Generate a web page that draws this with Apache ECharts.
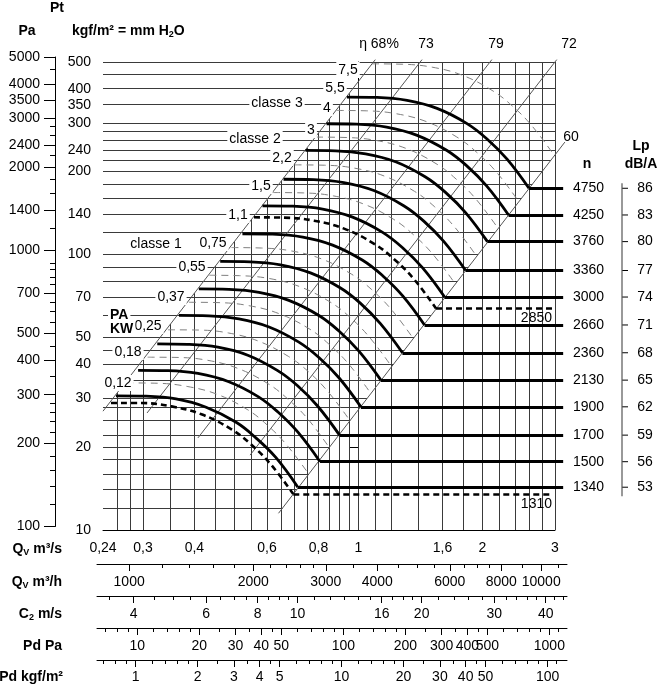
<!DOCTYPE html>
<html><head><meta charset="utf-8">
<script src="https://cdn.jsdelivr.net/npm/echarts@6/dist/echarts.min.js"></script>
<style>html,body{margin:0;padding:0;background:#fff}#c{width:657px;height:686px}</style>
</head><body><div id="c"></div>
<script>
// ================= DATA =================
// main axes: Qv m3/s (log) and Pt kgf/m2 (log)
const qLabelTicks = [0.24, 0.3, 0.4, 0.6, 0.8, 1, 1.6, 2, 3];
const qGridLines = [0.26,0.28,0.3,0.35,0.4,0.45,0.5,0.55,0.6,0.65,0.7,0.75,0.8,0.85,0.9,0.95,1,1.1,1.2,1.4,1.6,1.8,2,2.2,2.4,2.6,2.8,3];
const pLabelTicks = [500,400,350,300,240,200,140,100,70,50,40,30,20,10];
const pGridLines = [500,450,400,350,300,280,260,240,220,200,180,160,140,120,100,90,80,70,60,50,45,40,35,30,28,25,22,20,18,16,14,12];
// Pa scale
const paLabelTicks = [5000,4000,3500,3000,2400,2000,1400,1000,700,500,400,300,200,100];
const paMinorTicks = [4500,2800,2600,2200,1800,1600,1200,900,850,800,750,650,600,550,450,350,280,260,240,220,180,160,140,120];
// bottom scales
const qhLabelTicks = [1000,2000,3000,4000,6000,8000,10000];
const qhMinorTicks = [1200,1400,1600,1800,2200,2400,2600,2800,3500,4500,5000,5500,6500,7000,7500,9000,11000];
const c2LabelTicks = [4,6,8,10,16,20,30,40];
const c2MinorTicks = [3.5,4.5,5,5.5,6.5,7,7.5,8.5,9,9.5,11,12,13,14,15,17,18,19,22,24,26,28,32,34,36,38,42,44];
const pdPaLabelTicks = [10,20,30,40,50,100,200,300,400,500,1000];
const pdPaMinorTicks = [7,8,9,12,14,16,18,25,35,45,60,70,80,90,120,140,160,180,250,350,450,600,700,800,900,1100];
const pdKgLabelTicks = [1,2,3,4,5,10,20,30,40,50,100];
const pdKgMinorTicks = [0.7,0.8,0.9,1.2,1.4,1.6,1.8,2.5,3.5,4.5,6,7,8,9,12,14,16,18,25,35,45,60,70,80,90,110];

// fan curves (Q m3/s, Pt kgf/m2) per speed n
const speeds = [4750,4250,3760,3360,3000,2660,2360,2130,1900,1700,1500,1340];
const lpValues = [86,83,80,77,74,71,68,65,62,59,56,53];
const curveQ = [
  [0.938,1.110,1.313,1.552,1.835,2.052,2.295,2.594],
  [0.837,0.990,1.171,1.384,1.637,1.830,2.047,2.314],
  [0.744,0.880,1.041,1.231,1.455,1.627,1.820,2.057],
  [0.658,0.779,0.922,1.090,1.288,1.441,1.611,1.821],
  [0.585,0.693,0.819,0.968,1.145,1.280,1.432,1.619],
  [0.523,0.619,0.733,0.866,1.024,1.145,1.281,1.447],
  [0.462,0.547,0.647,0.765,0.905,1.012,1.131,1.279],
  [0.410,0.485,0.574,0.678,0.802,0.897,1.003,1.134],
  [0.367,0.434,0.513,0.607,0.717,0.802,0.897,1.014],
  [0.325,0.385,0.456,0.539,0.637,0.712,0.796,0.900],
  [0.292,0.345,0.408,0.483,0.571,0.638,0.714,0.807],
  [0.258,0.305,0.361,0.427,0.505,0.564,0.631,0.713]
];
const curveP = [
  [373,371.8,362.7,339.3,298.8,262.8,221.9,174],
  [298.4,297.4,290.2,271.4,239.0,210.2,177.5,139.2],
  [238.7,238.0,232.1,217.2,191.2,168.2,142.0,111.4],
  [187.6,187.0,182.4,170.7,150.3,132.2,111.6,87.5],
  [150.3,149.8,146.2,136.7,120.4,105.9,89.4,70.1],
  [119.0,118.6,115.7,108.2,95.3,83.8,70.8,55.5],
  [94.4,94.1,91.8,85.8,75.6,66.5,56.1,44.0],
  [75.0,74.7,72.9,68.2,60.1,52.8,44.6,35.0],
  [60.1,59.9,58.4,54.6,48.1,42.3,35.7,28.0],
  [47.4,47.2,46.1,43.1,37.9,33.4,28.2,22.1],
  [38.0,37.9,37.0,34.6,30.5,26.8,22.6,17.7],
  [30.7,30.6,29.9,27.9,24.6,21.6,18.3,14.3]
];
// dashed special curves
const dashedSpeeds = [2850, 1310];
const dashedQ = [
  [0.558,0.660,0.781,0.923,1.092,1.221,1.366,1.543],
  [0.251,0.297,0.352,0.416,0.492,0.550,0.615,0.695]
];
const dashedP = [
  [136.5,136.1,132.7,124.2,109.4,96.2,81.2,63.7],
  [28.9,28.9,28.1,26.3,23.2,20.4,17.2,13.5]
];
// thin grey dashed curves
const greyQ = [
  [1.079,1.277,1.510,1.785,2.110,2.360,2.639,2.983],
  [0.886,1.048,1.240,1.466,1.733,1.938,2.168,2.450],
  [0.789,0.934,1.104,1.305,1.543,1.726,1.930,2.182],
  [0.700,0.828,0.980,1.158,1.369,1.531,1.712,1.935],
  [0.621,0.735,0.869,1.027,1.215,1.358,1.519,1.717],
  [0.492,0.582,0.689,0.814,0.962,1.076,1.204,1.361],
  [0.435,0.515,0.609,0.720,0.852,0.953,1.065,1.204],
  [0.388,0.459,0.543,0.642,0.759,0.848,0.949,1.072],
  [0.345,0.409,0.484,0.572,0.676,0.756,0.845,0.955],
  [0.308,0.365,0.431,0.510,0.603,0.674,0.754,0.852],
  [0.274,0.325,0.384,0.454,0.537,0.600,0.671,0.759]
];
const greyP = [
  [492.4,490.8,478.8,447.9,394.4,346.9,292.9,229.7],
  [333.5,332.4,324.2,303.3,267.1,234.9,198.4,155.6],
  [266.9,266.0,259.5,242.8,213.8,188.0,158.8,124.5],
  [211.6,211.0,205.8,192.5,169.5,149.1,125.9,98.7],
  [167.9,167.4,163.3,152.8,134.5,118.3,99.9,78.3],
  [106.0,105.6,103.0,96.4,84.9,74.7,63.0,49.4],
  [84.1,83.8,81.8,76.5,67.4,59.3,50.0,39.2],
  [67.1,66.9,65.2,61.0,53.8,47.3,39.9,31.3],
  [53.3,53.2,51.9,48.5,42.7,37.6,31.7,24.9],
  [42.4,42.3,41.3,38.6,34.0,29.9,25.3,19.8],
  [34.2,34.1,33.2,31.1,27.4,24.1,20.3,15.9]
];
// efficiency lines (eta) endpoints [Q, P]
const etaLabels = ['η 68%','73','79','72','60'];
const etaLines = [
  [[0.24,27.0],[1.099,510]],
  [[0.307,26.6],[1.427,510]],
  [[0.408,21.6],[2.108,510]],
  [[0.546,18.7],[3.03,510]],
  [[0.64,11.5],[3.17,256]]
];
const kwLabels = ['7,5','5,5','4','3','2,2','1,5','1,1','0,75','0,55','0,37','0,25','0,18','0,12'];
const classeLabels = ['classe 3','classe 2','classe 1'];
const nLineEndQ = 3.14;      // thick n lines run past the grid
const dashedLineEndQ = 2.95;

// physical constants for the bottom scales
const AREA = 0.0712, RHO = 1.2, G = 9.81;

// ================= CHART =================
const L = Math.log10;
const FONT = "'Liberation Sans', Arial, Helvetica, sans-serif";
const chart = echarts.init(document.getElementById('c'));
const LQ0 = L(0.24), LQ1 = L(3), LP0 = L(10), LP1 = L(500);
const pxDec = 452 / (LQ1 - LQ0);
const SEC_MIN = LQ0 - 6 / pxDec, SEC_MAX = LQ1 + 12 / pxDec;

const fmt = v => String(v).replace('.', ',');
function matcher(list, toL) {
  return function (val) {
    for (const v of list) if (Math.abs(toL(v) - val) < 1e-6) return fmt(v);
    return '';
  };
}
const toQh = v => L(v / 3600);
const toC2 = v => L(v * AREA);
const toPdPa = v => L(Math.sqrt(v / (RHO / 2)) * AREA);
const toPdKg = v => L(Math.sqrt(v * G / (RHO / 2)) * AREA);

function lqOnLine(line, lp) {
  const a = line[0], b = line[1];
  const q1 = L(a[0]), p1 = L(a[1]), q2 = L(b[0]), p2 = L(b[1]);
  return q1 + (lp - p1) * (q2 - q1) / (p2 - p1);
}
function lpOnLine(line, lq) {
  const a = line[0], b = line[1];
  const q1 = L(a[0]), p1 = L(a[1]), q2 = L(b[0]), p2 = L(b[1]);
  return p1 + (lq - q1) * (p2 - p1) / (q2 - q1);
}

const labelStyle = { color: '#000', fontSize: 14, fontFamily: FONT };

const grids = [
  { left: 103, top: 62, width: 452, height: 468 },        // main
  { left: 55, top: 57, width: 2, height: 469.5 },          // Pa scale
  { left: 97, top: 554, width: 470, height: 10 },          // m3/h
  { left: 97, top: 586, width: 470, height: 10 },          // C2
  { left: 97, top: 618, width: 470, height: 10 },          // Pd Pa
  { left: 97, top: 650, width: 470, height: 10 }           // Pd kgf
];

const axLine = { show: true, lineStyle: { color: '#000', width: 1 } };
const xAxes = [
  { type: 'value', gridIndex: 0, min: LQ0, max: LQ1, splitLine: { show: false }, axisLine: axLine,
    axisTick: { show: false },
    axisLabel: Object.assign({ customValues: qLabelTicks.map(L), margin: 11, formatter: matcher(qLabelTicks, L) }, labelStyle) },
  { type: 'value', gridIndex: 1, show: false, min: 0, max: 1 }
];
function secAxes(grid, labels, minors, toL, margin) {
  xAxes.push({ type: 'value', gridIndex: grid, position: 'bottom', min: SEC_MIN, max: SEC_MAX, splitLine: { show: false },
    axisLine: axLine,
    axisTick: { show: true, customValues: labels.map(toL), length: 7, lineStyle: { color: '#000' } },
    axisLabel: Object.assign({ customValues: labels.map(toL), margin: margin, formatter: matcher(labels, toL) }, labelStyle) });
  xAxes.push({ type: 'value', gridIndex: grid, position: 'bottom', min: SEC_MIN, max: SEC_MAX, splitLine: { show: false },
    axisLine: { show: false },
    axisTick: { show: true, customValues: minors.map(toL), length: 4, lineStyle: { color: '#000' } },
    axisLabel: { show: false } });
}
secAxes(2, qhLabelTicks, qhMinorTicks, toQh, 11);
secAxes(3, c2LabelTicks, c2MinorTicks, toC2, 11);
secAxes(4, pdPaLabelTicks, pdPaMinorTicks, toPdPa, 11);
secAxes(5, pdKgLabelTicks, pdKgMinorTicks, toPdKg, 10);

const yAxes = [
  { type: 'value', gridIndex: 0, min: LP0, max: LP1, splitLine: { show: false }, axisLine: axLine,
    axisTick: { show: true, customValues: pLabelTicks.map(L), length: 9, lineStyle: { color: '#000' } },
    axisLabel: Object.assign({ customValues: pLabelTicks.map(L), margin: 12, formatter: matcher(pLabelTicks, L) }, labelStyle) },
  { type: 'value', gridIndex: 1, position: 'left', min: L(100), max: L(5000), splitLine: { show: false }, axisLine: axLine,
    axisTick: { show: true, customValues: paLabelTicks.map(L), length: 11, lineStyle: { color: '#000' } },
    axisLabel: Object.assign({ customValues: paLabelTicks.map(L), margin: 15, formatter: matcher(paLabelTicks, L) }, labelStyle) },
  { type: 'value', gridIndex: 1, position: 'left', min: L(100), max: L(5000), splitLine: { show: false }, axisLine: { show: false },
    axisTick: { show: true, customValues: paMinorTicks.map(L), length: 5, lineStyle: { color: '#000' } },
    axisLabel: { show: false } }
];
for (let g = 2; g <= 5; g++) yAxes.push({ type: 'value', gridIndex: g, show: false, min: 0, max: 1 });

// grid lines clipped by the limiting eta lines
const hLines = [];
pGridLines.forEach(p => {
  const lq = Math.min(LQ1, lqOnLine(etaLines[4], L(p)));
  if (lq > LQ0) hLines.push({ coords: [[LQ0, L(p)], [lq, L(p)]] });
});
const vLines = [];
qGridLines.forEach(q => {
  const lp = Math.min(LP1, lpOnLine(etaLines[0], L(q)));
  if (lp > LP0) vLines.push({ coords: [[L(q), LP0], [L(q), lp]] });
});

const SMOOTH = 0.4;
const series = [];
series.push({ type: 'lines', coordinateSystem: 'cartesian2d', xAxisIndex: 0, yAxisIndex: 0, silent: true, z: 1,
  data: hLines, lineStyle: { color: '#3a3a3a', width: 1, opacity: 1 } });
series.push({ type: 'lines', coordinateSystem: 'cartesian2d', xAxisIndex: 0, yAxisIndex: 0, silent: true, z: 1,
  data: vLines, lineStyle: { color: '#3a3a3a', width: 1, opacity: 1 } });
series.push({ type: 'lines', coordinateSystem: 'cartesian2d', xAxisIndex: 0, yAxisIndex: 0, silent: true, z: 2, clip: false,
  data: etaLines.map(l => ({ coords: l.map(pt => [L(pt[0]), L(pt[1])]) })),
  lineStyle: { color: '#555', width: 1, opacity: 1 } });

greyQ.forEach((qs, i) => {
  series.push({ type: 'line', xAxisIndex: 0, yAxisIndex: 0, silent: true, z: 3, symbol: 'none', smooth: SMOOTH,
    data: qs.map((q, j) => [L(q), L(greyP[i][j])]),
    lineStyle: { color: '#808080', width: 1, type: [7, 5] } });
});
curveQ.forEach((qs, i) => {
  series.push({ type: 'line', name: String(speeds[i]), xAxisIndex: 0, yAxisIndex: 0, z: 6, symbol: 'none', smooth: SMOOTH,
    data: qs.map((q, j) => [L(q), L(curveP[i][j])]),
    lineStyle: { color: '#000', width: 2.8 } });
});
dashedQ.forEach((qs, i) => {
  series.push({ type: 'line', name: String(dashedSpeeds[i]), xAxisIndex: 0, yAxisIndex: 0, z: 6, symbol: 'none', smooth: SMOOTH,
    data: qs.map((q, j) => [L(q), L(dashedP[i][j])]),
    lineStyle: { color: '#000', width: 2.6, type: [6, 4] } });
});
series.push({ type: 'lines', coordinateSystem: 'cartesian2d', xAxisIndex: 0, yAxisIndex: 0, silent: true, z: 6, clip: false,
  data: curveQ.map((qs, i) => {
    const pe = curveP[i][curveP[i].length - 1];
    return { coords: [[L(qs[qs.length - 1]), L(pe)], [L(nLineEndQ), L(pe)]] };
  }),
  lineStyle: { color: '#000', width: 2.8, opacity: 1 } });
series.push({ type: 'lines', coordinateSystem: 'cartesian2d', xAxisIndex: 0, yAxisIndex: 0, silent: true, z: 6, clip: false,
  data: dashedQ.map((qs, i) => {
    const pe = dashedP[i][dashedP[i].length - 1];
    return { coords: [[L(qs[qs.length - 1]), L(pe)], [L(dashedLineEndQ), L(pe)]] };
  }),
  lineStyle: { color: '#000', width: 2.6, opacity: 1, type: [6, 4] } });

chart.setOption({
  animation: false,
  backgroundColor: '#fff',
  grid: grids,
  xAxis: xAxes,
  yAxis: yAxes,
  series: series
});

// ================= TEXT / DECORATIONS =================
const els = [];
function txt(text, x, y, opt) {
  opt = opt || {};
  els.push({ type: 'text', x: x, y: y, z: 100, silent: true,
    style: Object.assign({ text: text, font: (opt.bold ? 'bold ' : '') + (opt.size || 14) + 'px ' + FONT, fill: '#000',
      align: opt.align || 'center', verticalAlign: 'middle' },
      opt.bg ? { backgroundColor: '#fff', padding: [1, 2, 1, 2] } : {},
      opt.rich ? { rich: opt.rich } : {}) });
}
const B = 'bold 14px ' + FONT, S = 'bold 9px ' + FONT;
const richSub = { a: { font: B, lineHeight: 16 }, s: { font: S, verticalAlign: 'bottom', lineHeight: 16 } };
txt('Pt', 57, 8, { bold: true });
txt('Pa', 27, 31, { bold: true });
txt('{a|kgf/m² = mm H}{s|2}{a|O}', 72, 31, { align: 'left', rich: richSub });
txt('{a|Q}{s|V}{a| m³/s}', 62, 549, { align: 'right', rich: richSub });
txt('{a|Q}{s|V}{a| m³/h}', 62, 582, { align: 'right', rich: richSub });
txt('{a|C}{s|2}{a| m/s}', 62, 614, { align: 'right', rich: richSub });
txt('Pd Pa', 62, 646, { align: 'right', bold: true });
txt('Pd kgf/m²', 63, 677, { align: 'right', bold: true });

const etaPos = [[379, 44], [426, 44], [496, 44], [569, 44], [571, 137]];
etaLabels.forEach((t, i) => txt(t, etaPos[i][0], etaPos[i][1]));
const kwPos = [[348,70],[335,88],[327,108],[311,130],[282,158],[261,186],[238,215],[213,243],[192,267],[171,297],[148,326],[128,352],[118,383]];
kwLabels.forEach((t, i) => txt(t, kwPos[i][0], kwPos[i][1], { bg: true }));
const classePos = [[277,103],[255,139],[156,244]];
classeLabels.forEach((t, i) => txt(t, classePos[i][0], classePos[i][1], { bg: true }));
txt('PA', 108, 315, { bold: true, align: 'left', bg: true });
txt('KW', 108, 329, { bold: true, align: 'left', bg: true });

// n and Lp scale at the right, placed at the curve end pressures
const yOf = p => chart.convertToPixel({ xAxisIndex: 0, yAxisIndex: 0 }, [LQ1, L(p)])[1];
txt('n', 587, 164, { bold: true });
txt('Lp', 641, 146, { bold: true });
txt('dB/A', 641, 164, { bold: true });
const endYs = curveP.map(ps => yOf(ps[ps.length - 1]));
speeds.forEach((n, i) => {
  txt(String(n), 573, endYs[i], { align: 'left' });
  txt(String(lpValues[i]), 645, endYs[i]);
  els.push({ type: 'line', silent: true, z: 50, shape: { x1: 622, y1: endYs[i], x2: 628, y2: endYs[i] }, style: { stroke: '#000', lineWidth: 1 } });
});
els.push({ type: 'line', silent: true, z: 50, shape: { x1: 622, y1: endYs[0] - 5, x2: 622, y2: endYs[endYs.length - 1] + 9 }, style: { stroke: '#555', lineWidth: 1.2 } });
dashedSpeeds.forEach((n, i) => {
  const y = yOf(dashedP[i][dashedP[i].length - 1]);
  txt(String(n), 552, y + 10, { align: 'right' });
});

chart.setOption({ graphic: { elements: els } });
</script>
</body></html>
